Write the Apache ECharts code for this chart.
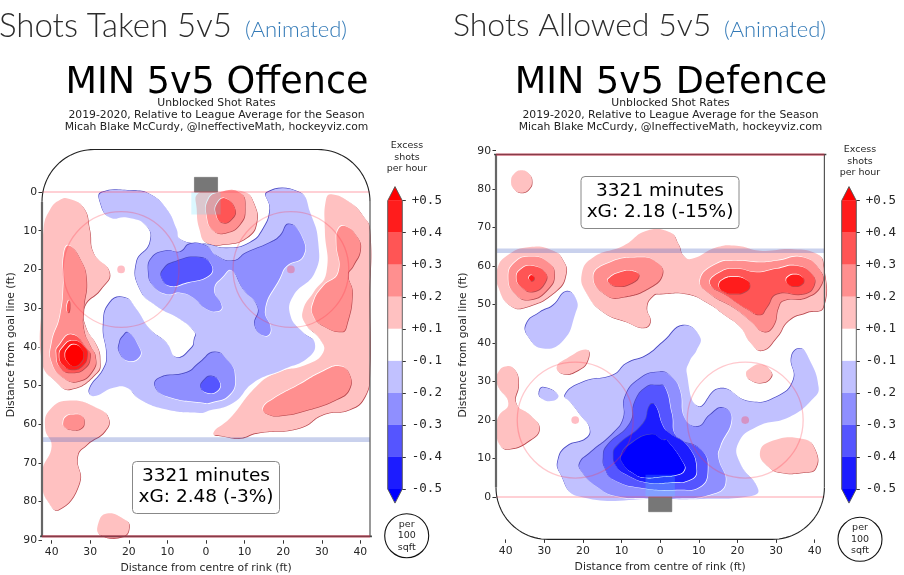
<!DOCTYPE html>
<html>
<head>
<meta charset="utf-8">
<script src="https://cdn.jsdelivr.net/npm/echarts@6/dist/echarts.min.js"></script>
<style>html,body{margin:0;padding:0;background:#fff}#main{width:904px;height:575px}</style>
</head>
<body>
<div id="main"></div>
<script>
// tick labels
var xTicks = [-40, -30, -20, -10, 0, 10, 20, 30, 40];
var yTicks = [0, 10, 20, 30, 40, 50, 60, 70, 80, 90];
var colorbarTicks = ['+0.5', '+0.4', '+0.3', '+0.2', '+0.1', '-0.1', '-0.2', '-0.3', '-0.4', '-0.5'];
// contour bands, level sign = red/blue, points = [ft across, ft from goal line]
var offenceContours = [
    [1, [[-35.6,1.7],[-31.8,4],[-30.2,9.6],[-29.2,15.7],[-25,20.8],[-27.4,25.2],[-31.5,29.5],[-31.3,34.6],[-28.3,39.8],[-27.5,43.3],[-28.3,46.7],[-35.2,51],[-39,48.9],[-42.5,44],[-42.5,27],[-42.1,9.6],[-40.4,4.5],[-37.8,2]]],
    [1, [[-35.2,53.9],[-28.3,55.8],[-25.3,58.4],[-26.2,61.8],[-30.9,65.3],[-33.3,68.3],[-32.8,75.2],[-38.2,82.1],[-41.3,79.5],[-42.4,76],[-42.4,71.7],[-40,65.7],[-41.7,61],[-40.4,56.2]]],
    [1, [[-25.7,83.1],[-21,84.7],[-19.9,86.4],[-21.4,89],[-27.4,88.6],[-27.9,85.6]]],
    [1, [[-2,0.3],[4,0],[10,0],[12.3,2.7],[13.1,7.9],[10.5,11.8],[5,13.5],[0,13],[-1.6,10],[-2.4,4.5]]],
    [1, [[32.5,0.6],[37.3,2.7],[40.7,6.2],[42.4,9.6],[42.4,28],[42.4,46.7],[41.2,52.8],[37.3,56.2],[30.4,57.5],[24.3,61],[13.1,62.3],[8.8,63.6],[4.5,63.1],[1.9,62.3],[6.2,58.5],[13.1,50.2],[18.3,46.7],[26.1,44.6],[30.4,41.4],[29.5,38],[25.6,33.8],[25.2,30.3],[27.8,26],[31.2,20.8],[30.8,9.6],[31.1,1.9]]],
    [2, [[-35.6,13.8],[-32.6,17.4],[-31,22.6],[-31.7,30.3],[-31.7,35.5],[-30,39.8],[-28.7,42.4],[-29.2,45.9],[-33,48.9],[-37,48],[-40,44],[-40,39],[-37.8,32],[-36.9,23.4],[-36.9,16.5]]],
    [2, [[-32.2,57.9],[-31.6,59.5],[-32.2,61],[-34.3,61.5],[-36.6,60.8],[-37,59.5],[-36.2,58],[-34.3,57.5]]],
    [2, [[3.2,0.1],[8.8,0.1],[10.1,4.4],[8.8,8.3],[5.3,10.5],[1.9,10],[0.2,6.2],[0.6,1.9]]],
    [2, [[36,8.8],[39,11.4],[40,14.8],[38.1,19.1],[36.8,21.3],[37.9,26],[36.4,34.6],[35.1,36.1],[30.4,34.6],[27.8,32],[27.8,28.6],[30.4,24.3],[34.3,20.8],[33.8,13.1],[34.3,9.6]]],
    [2, [[34.7,45],[37.1,47],[37.1,51],[33.8,53.6],[26.1,56.4],[19.2,57.8],[15.7,57.3],[14.8,55.8],[17.4,53.5],[24.3,49.7],[30.4,46.3]]],
    [3, [[-35.5,28],[-35.3,30],[-35.7,31.2],[-36.1,30]]],
    [3, [[-34.8,36.8],[-30.7,40.7],[-30,42.4],[-31.3,45.4],[-34.8,46.7],[-37.8,45.4],[-38.8,41.5],[-38.2,39.8]]],
    [3, [[4.9,1.6],[7.5,4.4],[6.6,7],[4.1,7.9],[2.6,5.7],[2.8,3.1]]],
    [4, [[-34.5,38.4],[-31.5,40],[-30.8,42.3],[-32,44.8],[-34.5,45.9],[-37,44.8],[-38,42.3],[-37,40]]],
    [5, [[-34.2,39.4],[-32.4,40.4],[-31.8,42.2],[-32.4,44],[-34.2,45],[-35.8,44],[-36.5,42.2],[-35.8,40.4]]],
    [-1, [[-27,0.1],[-18.8,-0.3],[-14.5,0.6],[-10.2,4.4],[-7.6,9.6],[-6.7,12.2],[-1.6,13.5],[0.2,13.5],[5.4,14.5],[11.4,13.1],[14.8,9.6],[16.6,4.5],[15.9,0.1],[24.3,0.1],[27,5.3],[29.1,13.1],[28.2,20.8],[22.6,26.9],[21.9,32],[25.2,36.4],[28.2,39],[26.5,42.8],[20,45.9],[12.3,49.3],[7.1,54.5],[0.2,56.7],[-1.6,57.1],[-10.2,56.2],[-17.1,53.6],[-20.5,50.6],[-24,50.6],[-29.2,52.8],[-30.2,51],[-26.6,45.9],[-25.7,42.4],[-26.6,34.6],[-24.9,28.6],[-21,27.3],[-18,30.3],[-14.5,35.5],[-10.2,39],[-7.6,42.8],[-3.7,40.3],[-3,38.1],[-2.8,36.4],[-6.7,32.9],[-12.8,29.5],[-17.1,25.2],[-18,18.3],[-14.5,13.1],[-15.4,8.8],[-20.5,6.6],[-24.9,6.6],[-27.4,2.7]]],
    [-2, [[-14,17],[-10.2,15.2],[-6.7,15.5],[-4.1,13.4],[0.2,14],[2.8,16.5],[7.1,17.8],[10.5,15.7],[16.6,13.1],[19.2,11.4],[21.5,8.3],[24.8,11.4],[25.2,16.5],[20.9,19.1],[19.2,22.1],[15.3,30.3],[16.8,35.5],[15.3,37.2],[12.7,34.6],[13.5,29.9],[9.7,25.2],[6.6,20.2],[4.5,21.7],[2.1,25.2],[4.1,29.5],[3,30.8],[0.2,30.3],[-3.3,27.3],[-6.7,26],[-10.2,26.4],[-13.6,24.3],[-14.9,20.8]]],
    [-2, [[-20.1,36.4],[-17.5,39.8],[-17.1,42.4],[-20.1,43.7],[-22.4,41.5],[-22.4,39],[-21.4,37.2]]],
    [-2, [[2.3,41.4],[5.8,43.7],[7.5,47.6],[6.2,52.3],[1,54.5],[-0.7,54.5],[-10.2,52.8],[-13.2,50.2],[-11.9,48],[-5,46.7],[-1.6,44.1]]],
    [-3, [[-11,20],[-8.5,18.2],[-1.6,16.9],[1.5,19.1],[0.6,21.7],[-5,23.4],[-9.3,24.3],[-11.5,22.1]]],
    [-3, [[1.5,47.6],[3.6,49.3],[2.8,51.5],[0.2,51.9],[-1.3,50.6],[-0.7,48.9]]]
];
var defenceContours = [
    [1, [[-35.9,79.1],[-34,80],[-33.2,82],[-34,84],[-35.9,84.9],[-37.8,84],[-38.6,82],[-37.8,80]]],
    [1, [[-33.7,65],[-27.7,64],[-25.1,61.4],[-24.4,58],[-26.8,53.7],[-34.6,49.4],[-38.9,49.8],[-41.9,54.5],[-42.3,58.8],[-39.7,62.7]]],
    [1, [[-20.3,58],[-17.3,62.3],[-9.5,65.3],[-3.5,69.2],[2.5,68.8],[4.7,65.7],[6,62.7],[8.2,61.9],[14.6,64.9],[19.8,65.3],[25.8,64],[34.5,64.4],[40.5,63.2],[42.2,60.6],[42.2,49.4],[37.9,48],[33.2,45.9],[30.2,41.6],[26.3,38.1],[23.2,40.3],[20.7,44.2],[16.3,47.6],[12,50.6],[6.9,52.8],[0,52.8],[-1.8,52.4],[-3.5,49.4],[-2.6,45.5],[-4.4,44],[-8.7,45.5],[-14.7,48],[-19,52.8]]],
    [1, [[-39.7,34],[-37.6,33],[-36.7,29.5],[-37.3,24.3],[-33.7,21.3],[-31.3,17.9],[-33.7,14.8],[-38.9,12.5],[-41.5,13.5],[-42.3,17.4],[-41.9,20.9],[-39.3,24.3],[-42.3,29.5],[-41.9,32.5]]],
    [1, [[-26.8,33.8],[-24.2,36],[-19,38.3],[-18.8,35.5],[-21.2,33],[-25.1,32]]],
    [1, [[25.8,34.5],[28.4,33],[28.7,31.2],[26.3,29.7],[23.2,30.5],[22.2,32.1],[23.2,33.4]]],
    [1, [[25.8,11.4],[28.4,14.4],[37,15.1],[40.1,12.3],[40.2,7.5],[37,6.4],[31,6.4],[28,7.9]]],
    [2, [[-33.3,62.5],[-29,61],[-27.4,58],[-29,54.1],[-33.7,51.3],[-37.6,52.8],[-39.3,57.1],[-37.6,61]]],
    [2, [[-17.3,57.1],[-13.9,60.6],[-5.2,62.3],[-0.9,61],[0.6,58],[-2.6,54.5],[-9.5,52],[-13.9,52.4]]],
    [2, [[10.3,56.3],[14.6,60.6],[19.8,61.4],[25.8,61],[30.1,61.4],[37,62.3],[41.4,58.8],[41.8,55.4],[37.9,51.9],[31.9,51.1],[30.6,49.4],[29.3,44.6],[26.7,43],[23.2,45.9],[18.9,49.3],[12.9,52.8]]],
    [3, [[-33.3,60.1],[-29.8,58.4],[-29.8,55.8],[-32.8,53.4],[-35.9,54.5],[-37.2,57.1],[-35.9,59.3]]],
    [3, [[-13.4,56.7],[-10.4,58.4],[-7,58.7],[-5.5,57.5],[-7.8,55.4],[-11.3,54.8],[-13.4,55.8]]],
    [3, [[12.9,55.4],[15.5,58.4],[19.8,59.3],[25,58.4],[30.1,59.3],[35.3,60.1],[39.2,58],[39.8,55],[37.1,52.8],[30.1,52.8],[27.6,49.4],[25.8,47.4],[22.4,48.9],[17.2,52.4]]],
    [4, [[-33.3,57.7],[-32.6,56.9],[-33.3,56.1],[-34,56.9]]],
    [4, [[19.2,57.2],[22,56.6],[23.2,55],[22,53.4],[19.2,52.8],[16.4,53.4],[15.2,55],[16.4,56.6]]],
    [4, [[34.9,57.85],[36.5,57.4],[37.2,56.3],[36.5,55.2],[34.9,54.75],[33.3,55.2],[32.6,56.3],[33.3,57.4]]],
    [-1, [[-24.2,53.4],[-21.6,51.1],[-22,47.6],[-25.1,40.7],[-30.3,38.6],[-34.1,41.6],[-34.6,45],[-31.1,48],[-27.7,49.8]]],
    [-1, [[-30.2,28.5],[-26.4,26.5],[-27.7,25],[-30.7,25.6],[-31.3,27.3]]],
    [-1, [[-24.6,26.5],[-19.9,29.9],[-12.1,31.7],[-8.7,34.7],[-3.5,36.8],[0.8,40.3],[6,44.6],[10.3,41.6],[9.4,38.1],[7.7,35.5],[6.9,32.1],[9.9,23.5],[15.5,28.2],[23.2,24.8],[30.1,26],[34.5,30.4],[34,36.4],[36.2,38.6],[38.3,36.4],[41,28.6],[39.6,25.6],[33.6,20.9],[25,18.3],[20.2,14],[20.7,8.8],[25.4,1.9],[23.2,0.2],[11.2,-0.5],[0,-0.5],[-21.2,0.2],[-25.9,6.2],[-26.4,9.6],[-24.2,13.1],[-19,15.3],[-18.2,17.9],[-20.3,20.9],[-22.9,24.3]]],
    [-2, [[-20.8,8.8],[-18.2,11.4],[-12.1,16.6],[-9.5,20.4],[-9.1,26],[-5.2,30.8],[0,32.5],[3,31.2],[5.1,27.8],[6.4,20.4],[9.9,18.3],[12.9,21.3],[16.3,23.2],[18.5,20.4],[15.5,13.1],[15,10.5],[16.9,3.6],[12.9,0.6],[4.3,-0.4],[-3.5,-0.3],[-11.3,0.2],[-16.4,2.7],[-20.3,6.6]]],
    [-3, [[-14.7,10.1],[-13.9,13.1],[-7.8,19.1],[-6.5,24.8],[-3.5,28.6],[-0.5,29],[1.2,28.6],[3,21.7],[4.3,15.7],[10.7,12.2],[12.3,7],[10.3,2.7],[4.3,1.9],[-4.4,2.3],[-12.1,4.5],[-14.3,7.5]]],
    [-4, [[-12.1,11],[-11.3,13.1],[-4.4,19.1],[-2.6,23.9],[-1.3,23.9],[0.8,18.3],[2.5,16.6],[7.3,13.1],[9.4,7],[7.7,4.5],[2.5,3.8],[-3.5,3.8],[-8.7,5.8],[-11.3,7.9]]],
    [-5, [[-10,11],[-7.4,14],[-2.2,16.3],[0.8,14.8],[1.7,14.8],[6,8.8],[6.2,7],[4.3,5.8],[0,5.3],[-4.4,5.1],[-7,6.2],[-9.5,8.4]]]
];
var faceoffX = [-22, 22];

var redShades = ['#ffc1c1', '#ff8f8f', '#ff5555', '#ff1c1c', '#ff0000'];
var blueShades = ['#c1c1ff', '#8f8fff', '#5555ff', '#1c1cff', '#0000ff'];
var colorbarShades = ['#ff1c1c', '#ff5555', '#ff8f8f', '#ffc1c1', '#ffffff', '#c1c1ff', '#8f8fff', '#5555ff', '#1c1cff'];

function contourItem(contours) {
    return function (params, api) {
        var level = contours[params.dataIndex][0];
        var pts = contours[params.dataIndex][1].map(function (p) { return api.coord(p); });
        var red = level > 0;
        var k = red ? 0.6 : -0.6;
        function shifted(d) {
            return pts.map(function (p) { return [p[0] + d, p[1] + d]; });
        }
        var fill = red ? redShades[level - 1] : blueShades[-level - 1];
        return {
            type: 'group',
            children: [
                { type: 'polygon', shape: { points: shifted(k), smooth: 0.5 }, style: { fill: red ? '#b8484e' : '#4a4ac4' } },
                { type: 'polygon', shape: { points: shifted(-k), smooth: 0.5 }, style: { fill: '#ffffff' } },
                { type: 'polygon', shape: { points: pts, smooth: 0.5 }, style: { fill: fill } }
            ]
        };
    };
}

function line(api, a, b, color, w) {
    var p = api.coord(a), q = api.coord(b);
    return { type: 'line', shape: { x1: p[0], y1: p[1], x2: q[0], y2: q[1] }, style: { stroke: color, lineWidth: w } };
}

function rinkItem(params, api) {
    var children = [];
    // crease and goal
    var c0 = api.coord([-3.8, 0]), c1 = api.coord([3.8, 5.8]);
    children.push({ type: 'rect', shape: { x: c0[0], y: Math.min(c0[1], c1[1]), width: c1[0] - c0[0], height: Math.abs(c1[1] - c0[1]) }, style: { fill: 'rgba(90,225,255,0.22)' } });
    var g0 = api.coord([-3, 0]), g1 = api.coord([3, -3.8]);
    children.push({ type: 'rect', shape: { x: g0[0], y: Math.min(g0[1], g1[1]), width: g1[0] - g0[0], height: Math.abs(g1[1] - g0[1]) }, style: { fill: '#777777', stroke: '#666666', lineWidth: 0.6 } });
    // lines
    children.push(line(api, [-42.5, 0], [42.5, 0], 'rgba(255,60,80,0.32)', 1.4));
    children.push(line(api, [-42.5, 64], [42.5, 64], 'rgba(60,90,190,0.28)', 4.6));
    // faceoff circles
    faceoffX.forEach(function (x) {
        var c = api.coord([x, 20]);
        children.push({ type: 'circle', shape: { cx: c[0], cy: c[1], r: api.size([15, 0])[0] }, style: { fill: 'none', stroke: 'rgba(255,50,70,0.27)', lineWidth: 1.3 } });
        children.push({ type: 'circle', shape: { cx: c[0], cy: c[1], r: api.size([1, 0])[0] }, style: { fill: 'rgba(255,50,70,0.32)' } });
    });
    // boards
    var pts = [];
    var i, a;
    for (i = 0; i <= 24; i++) {
        a = Math.PI / 2 * i / 24;
        pts.push(api.coord([-29 - 13.5 * Math.cos(a), 2.5 - 13.5 * Math.sin(a)]));
    }
    for (i = 24; i >= 0; i--) {
        a = Math.PI / 2 * i / 24;
        pts.push(api.coord([29 + 13.5 * Math.cos(a), 2.5 - 13.5 * Math.sin(a)]));
    }
    children.push({ type: 'polyline', shape: { points: pts }, style: { fill: 'none', stroke: '#222222', lineWidth: 1.1 } });
    children.push(line(api, [-42.5, 2.5], [-42.5, 89], '#666666', 2.2));
    children.push(line(api, [42.5, 2.5], [42.5, 89], '#555555', 1.2));
    children.push(line(api, [-43, 89], [43, 89], '#444444', 1.6));
    children.push(line(api, [-42.5, 89], [42.5, 89], 'rgba(235,50,80,0.4)', 2.8));
    return { type: 'group', children: children };
}

function colorbarItem(params, api) {
    var children = [];
    colorbarShades.forEach(function (c, i) {
        var p = api.coord([0, i]), q = api.coord([1, i + 1]);
        children.push({ type: 'rect', shape: { x: p[0], y: p[1], width: q[0] - p[0], height: q[1] - p[1] }, style: { fill: c } });
    });
    var a = api.coord([0, 0]), b = api.coord([1, 0]), t = api.coord([0.5, -0.44]);
    var c = api.coord([0, 9]), d = api.coord([1, 9]), e = api.coord([0.5, 9.44]);
    children.push({ type: 'polygon', shape: { points: [a, t, b] }, style: { fill: '#ff0000' } });
    children.push({ type: 'polygon', shape: { points: [c, e, d] }, style: { fill: '#0000ff' } });
    children.push({ type: 'polyline', shape: { points: [a, t, b, d, e, c, a] }, style: { fill: 'none', stroke: '#555555', lineWidth: 0.9 } });
    return { type: 'group', children: children };
}

function xAxisFor(grid) {
    return {
        type: 'value', gridIndex: grid, min: -42.5, max: 42.5,
        name: 'Distance from centre of rink (ft)', nameLocation: 'middle', nameGap: 22,
        nameTextStyle: { fontFamily: 'DejaVu Sans', fontSize: 10.8, color: '#262626' },
        axisLine: { show: false, onZero: false }, splitLine: { show: false },
        axisTick: { show: true, length: 3.5, customValues: xTicks, lineStyle: { color: '#333' } },
        axisLabel: { customValues: xTicks, margin: 6.5, fontFamily: 'DejaVu Sans', fontSize: 10.8, color: '#262626', formatter: function (v) { return Math.abs(v); } }
    };
}
function yAxisFor(grid, inverse, gap) {
    return {
        type: 'value', gridIndex: grid, min: -11, max: 90, inverse: inverse,
        name: 'Distance from goal line (ft)', nameLocation: 'middle', nameGap: gap,
        nameTextStyle: { fontFamily: 'DejaVu Sans', fontSize: 10.8, color: '#262626' },
        axisLine: { show: false, onZero: false }, splitLine: { show: false },
        axisTick: { show: true, length: 3.5, customValues: yTicks, lineStyle: { color: '#333' } },
        axisLabel: { customValues: yTicks, margin: 5, fontFamily: 'DejaVu Sans', fontSize: 10.8, color: '#262626' }
    };
}
function barX(grid) {
    return { type: 'value', gridIndex: grid, min: 0, max: 1, show: false };
}
function barY(grid) {
    return {
        type: 'value', gridIndex: grid, min: 0, max: 9, interval: 1, inverse: true, position: 'right',
        axisLine: { show: false, onZero: false }, splitLine: { show: false },
        axisTick: { show: true, length: 3.5, lineStyle: { color: '#333' } },
        axisLabel: { margin: 9.5, fontFamily: 'DejaVu Sans Mono', fontSize: 12.5, color: '#262626', formatter: function (v) { return colorbarTicks[v]; } }
    };
}
function contourSeries(contours, axis) {
    return {
        type: 'custom', xAxisIndex: axis, yAxisIndex: axis, silent: true, z: 2,
        renderItem: contourItem(contours),
        data: contours.map(function (c, i) { return [0, i]; })
    };
}
function rinkSeries(axis) {
    return { type: 'custom', xAxisIndex: axis, yAxisIndex: axis, silent: true, z: 3, renderItem: rinkItem, data: [[0, 0]] };
}
function barSeries(axis) {
    return { type: 'custom', xAxisIndex: axis, yAxisIndex: axis, silent: true, clip: false, renderItem: colorbarItem, data: [[0, 0]] };
}

function label(x, y, text, font, color, align) {
    return { type: 'text', x: x, y: y, z: 20, style: { text: text, font: font, fill: color || '#000', align: align || 'center', verticalAlign: 'middle' } };
}
function infoBox(x, y, w, h, cx, a, b) {
    return [
        { type: 'rect', x: x, y: y, z: 19, shape: { width: w, height: h, r: 4 }, style: { fill: 'rgba(255,255,255,0.9)', stroke: '#888', lineWidth: 1 } },
        label(cx, y + 15, a, '18.5px "DejaVu Sans"'),
        label(cx, y + 36, b, '18.5px "DejaVu Sans"')
    ];
}
function perBadge(cx, cy) {
    return [
        { type: 'circle', x: cx, y: cy, z: 19, shape: { r: 22 }, style: { fill: '#fff', stroke: '#111', lineWidth: 1.1 } },
        label(cx, cy - 11.5, 'per', '9.5px "DejaVu Sans"', '#262626'),
        label(cx, cy, '100', '9.5px "DejaVu Sans"', '#262626'),
        label(cx, cy + 11.5, 'sqft', '9.5px "DejaVu Sans"', '#262626')
    ];
}
function heading(cx, title) {
    return [
        label(cx + 0.5, 83.5, title, '36.5px "DejaVu Sans"'),
        label(cx, 103, 'Unblocked Shot Rates', '10.8px "DejaVu Sans"', '#222'),
        label(cx, 115, '2019-2020, Relative to League Average for the Season', '10.8px "DejaVu Sans"', '#222'),
        label(cx, 127.5, 'Micah Blake McCurdy, @IneffectiveMath, hockeyviz.com', '10.8px "DejaVu Sans"', '#222')
    ];
}
function excess(cx, y) {
    return [
        label(cx, y, 'Excess', '9.5px "DejaVu Sans"', '#262626'),
        label(cx, y + 11.5, 'shots', '9.5px "DejaVu Sans"', '#262626'),
        label(cx, y + 23, 'per hour', '9.5px "DejaVu Sans"', '#262626')
    ];
}

var subFont = '300 22px Lato';
var graphics = [].concat(
    [label(-1, 26, 'Shots Taken 5v5', '300 33px Lato', '#2c2c2c', 'left'), label(245, 30, '(Animated)', subFont, '#337ab7', 'left')],
    [label(453, 26, 'Shots Allowed 5v5', '300 32px Lato', '#2c2c2c', 'left'), label(724, 30, '(Animated)', subFont, '#337ab7', 'left')],
    heading(216.5, 'MIN 5v5 Offence'),
    heading(670.5, 'MIN 5v5 Defence'),
    infoBox(132.5, 461.5, 147, 52, 206, '3321 minutes', 'xG: 2.48 (-3%)'),
    infoBox(581, 176.5, 158, 52, 660, '3321 minutes', 'xG: 2.18 (-15%)'),
    excess(407, 146),
    excess(860, 150),
    perBadge(406.7, 535.7),
    perBadge(860, 539.3)
);

var myChart = echarts.init(document.getElementById('main'));
var option = {
    animation: false,
    backgroundColor: '#ffffff',
    grid: [
        { left: 42, top: 149.5, width: 328, height: 390.7, outerBoundsMode: 'none' },
        { left: 496, top: 150.7, width: 328.4, height: 388.7, outerBoundsMode: 'none' },
        { left: 387.7, top: 200.7, width: 14.6, height: 288.3, outerBoundsMode: 'none' },
        { left: 841.7, top: 200.7, width: 14.6, height: 288.3, outerBoundsMode: 'none' }
    ],
    xAxis: [xAxisFor(0), xAxisFor(1), barX(2), barX(3)],
    yAxis: [yAxisFor(0, true, 25), yAxisFor(1, false, 27), barY(2), barY(3)],
    series: [
        contourSeries(offenceContours, 0),
        rinkSeries(0),
        contourSeries(defenceContours, 1),
        rinkSeries(1),
        barSeries(2),
        barSeries(3)
    ],
    graphic: { elements: graphics }
};
myChart.setOption(option);
</script>
</body>
</html>
